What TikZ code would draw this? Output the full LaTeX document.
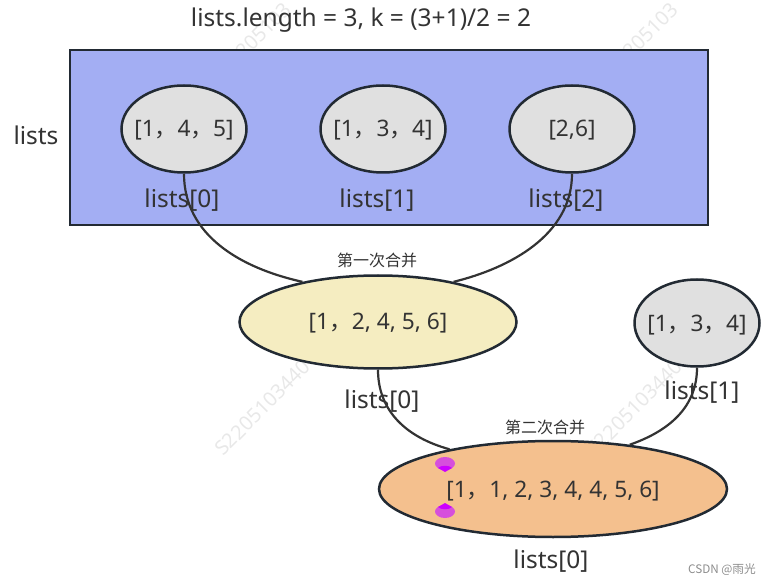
\documentclass[tikz,border=0pt]{standalone}
\usepackage{fontspec}
\setmainfont{Noto Sans}
\newfontfamily\cjkfont{Noto Sans CJK SC}
\usetikzlibrary{shapes.geometric}

\definecolor{inkcol}{HTML}{333333}
\definecolor{edgecol}{HTML}{222A33}
\definecolor{rectcol}{HTML}{A3AEF3}
\definecolor{greycol}{HTML}{E0E0E0}
\definecolor{yellowcol}{HTML}{F5EDC1}
\definecolor{orangecol}{HTML}{F4C08E}
\definecolor{pinkcol}{HTML}{D64FDC}
\definecolor{tipcol}{HTML}{CC00FF}

\newcommand{\fc}{{\cjkfont ，}}

\tikzset{
    x=1pt, y=-1pt,
    blob/.style={ellipse, draw=edgecol, line width=2.5pt, inner sep=-12pt, text=inkcol, text height=17pt, text depth=1pt, font=\fontsize{22.7}{26}\selectfont},
    listblob/.style={blob, fill=greycol, minimum width=125pt, minimum height=87pt},
    biglabel/.style={text=inkcol, inner sep=0pt, font=\fontsize{24.5}{28}\selectfont},
    smalllabel/.style={text=inkcol, inner sep=0pt, font=\cjkfont\fontsize{16}{19}\selectfont},
    link/.style={draw=inkcol, line width=2.2pt},
    faint/.style={text=black!9, inner sep=0pt, rotate=45, font=\fontsize{20}{22}\selectfont}
}

\begin{document}
\begin{tikzpicture}
    \useasboundingbox (0,0) rectangle (771,585);

    % watermark
    \node[faint, anchor=west] (wa) at (218,452) {S2205103440};
    \node[faint, anchor=west] (wb) at (590,452) {S2205103440};
    \node[faint, anchor=east] (wc) at (288,6) {S2205103};
    \node[faint, anchor=east] (wd) at (675,6) {S2205103};

    % top box
    \node[biglabel] (title) at (361,20) {lists.length = 3, k = (3+1)/2 = 2};
    \node[draw=edgecol, line width=2.6pt, fill=rectcol, minimum width=638pt, minimum height=175pt, inner sep=0pt] (box) at (389,137.5) {};
    \node[biglabel] (lists) at (36,135) {lists};

    \node[listblob] (l0) at (184,129) {[1\fc 4\fc 5]};
    \node[listblob] (l1) at (383,129) {[1\fc 3\fc 4]};
    \node[listblob] (l2) at (572,129) {[2,6]};

    % merged lists
    \node[blob, fill=yellowcol, minimum width=277pt, minimum height=93pt] (m1) at (378,322) {[1\fc 2, 4, 5, 6]};
    \node[listblob] (r1) at (697,323) {[1\fc 3\fc 4]};
    \node[blob, fill=orangecol, minimum width=348pt, minimum height=96pt] (m2) at (553,489) {[1\fc 1, 2, 3, 4, 4, 5, 6]};

    % links
    \draw[link] (l0.south) .. controls (184,235) and (240,268) .. (m1.152);
    \draw[link] (l2.south) .. controls (572,235) and (510,268) .. (m1.28);
    \draw[link] (m1.south) .. controls (378,410) and (405,437) .. (m2.159);
    \draw[link] (r1.south) .. controls (697,405) and (672,430) .. (m2.30);

    % labels
    \node[biglabel] (t0) at (182,200.5) {lists[0]};
    \node[biglabel] (t1) at (377,200.5) {lists[1]};
    \node[biglabel] (t2) at (566,200.5) {lists[2]};
    \node[biglabel] (t3) at (382,401.5) {lists[0]};
    \node[biglabel] (t4) at (702,392) {lists[1]};
    \node[biglabel] (t5) at (551,561.5) {lists[0]};
    \node[smalllabel] (first) at (377,260) {第一次合并};
    \node[smalllabel] (second) at (545,427) {第二次合并};
    \node[text=black!45, inner sep=0pt, font=\cjkfont\fontsize{11.7}{14}\selectfont] (csdn) at (722,570) {CSDN @雨光};

    % pink marks
    \fill[pinkcol] (445,463.5) ellipse[x radius=10, y radius=6.5];
    \fill[pinkcol] (445,511.5) ellipse[x radius=10, y radius=6.5];
    \fill[tipcol] (438,468) -- (445,472) -- (452,468) .. controls (449,465) and (441,465) .. cycle;
    \fill[tipcol] (438,507) -- (445,503) -- (452,507) .. controls (449,510) and (441,510) .. cycle;
\end{tikzpicture}
\end{document}
